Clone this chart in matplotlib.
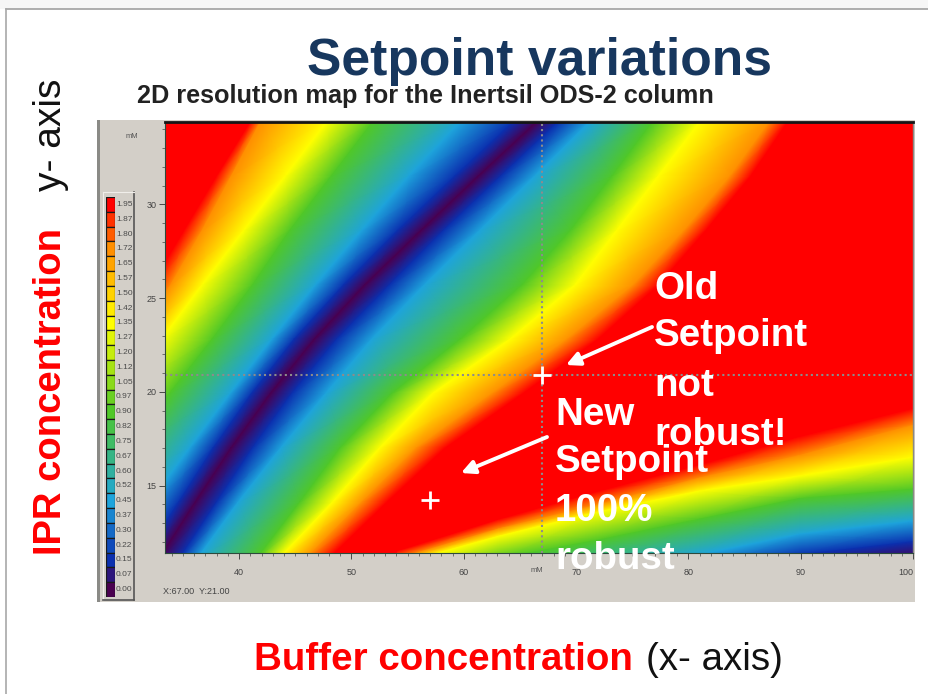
import matplotlib
matplotlib.use("Agg")
import matplotlib.pyplot as plt
import matplotlib.patheffects as pe
import numpy as np
from matplotlib.colors import LinearSegmentedColormap, Normalize
from matplotlib.patches import Rectangle

plt.rcParams['font.family'] = ['Liberation Sans', 'DejaVu Sans']

W, H = 929, 694

# colour stops of the map, resolution value -> colour
stop_values = [0.0, 0.15, 0.45, 0.9, 1.35, 1.72, 1.95]
stop_colors = ['#4a0050', '#0a30b0', '#1ea4dc', '#50c828', '#ffff00', '#ff9000', '#ff0000']

legend_levels = [1.95, 1.87, 1.80, 1.72, 1.65, 1.57, 1.50, 1.42, 1.35, 1.27, 1.20, 1.12, 1.05, 0.97,
                 0.90, 0.82, 0.75, 0.67, 0.60, 0.52, 0.45, 0.37, 0.30, 0.22, 0.15, 0.07, 0.00]

# IPR concentration rows (mM), top to bottom
ipr_rows = [34.4, 31.5, 28.6, 25.7, 22.8, 19.9, 17.0, 14.1, 11.2]

# buffer concentration (mM) where each colour stop sits on those rows
red_left = [41.0, 38.0, 35.1, 32.2, 29.2, 26.3, 23.4, 20.4, 17.5]
orange_left = [41.9, 39.3, 36.7, 33.9, 30.8, 27.9, 25.0, 22.0, 19.1]
yellow_left = [47.8, 44.1, 40.4, 36.7, 33.1, 29.4, 25.8, 22.1, 18.5]
green_left = [51.9, 48.2, 44.5, 41.2, 37.6, 33.8, 30.0, 26.5, 22.9]
sky_left = [59.7, 55.1, 50.9, 46.8, 42.9, 39.2, 35.6, 32.1, 28.7]
blue_left = [64.4, 59.2, 54.1, 49.3, 44.9, 41.1, 37.7, 34.6, 31.5]
ridge = [66.5, 61.3, 56.2, 51.2, 46.7, 42.8, 39.3, 36.1, 33.0]
blue_right = [68.4, 63.3, 58.2, 53.4, 48.7, 44.7, 41.2, 38.0, 34.8]
sky_right = [71.2, 66.3, 61.4, 56.5, 51.8, 47.7, 43.7, 39.9, 36.4]
green_right = [76.8, 73.2, 69.5, 65.2, 59.7, 53.6, 49.0, 45.4, 41.7]
yellow_right = [81.0, 77.3, 73.6, 69.9, 64.1, 57.2, 52.5, 48.3, 43.7]
orange_right = [87.2, 83.7, 79.6, 75.1, 69.2, 62.5, 55.8, 50.9, 46.1]
red_right = [88.8, 85.5, 81.5, 77.3, 71.9, 65.2, 58.3, 53.1, 48.1]

# lower right band: IPR (mM) of each colour stop on these buffer columns
band_columns = [54.1, 63.2, 72.1, 81.0, 89.9, 100.0]
band_red = [11.5, 13.2, 14.7, 16.1, 17.6, 19.1]
band_orange = [11.1, 12.7, 14.0, 15.4, 16.6, 18.2]
band_yellow = [10.8, 12.3, 13.6, 14.7, 15.5, 16.5]
band_green = [9.5, 11.1, 12.1, 13.2, 14.3, 14.8]
band_sky = [7.6, 9.2, 10.3, 11.3, 12.4, 13.1]
band_blue = [5.7, 8.1, 9.2, 10.3, 11.3, 12.0]
band_dark = [4.1, 7.3, 8.4, 9.5, 10.4, 11.1]

old_setpoint = (67, 20.9)
new_setpoint = (57, 14.25)


def px_axes(fig, left, top, right, bottom, **kw):
    return fig.add_axes([left / W, 1 - bottom / H, (right - left) / W, (bottom - top) / H], **kw)


norm = Normalize(0, 1.95)
cmap = LinearSegmentedColormap.from_list(
    'rs', [(v / 1.95, c) for v, c in zip(stop_values, stop_colors)], N=512)

fig = plt.figure(figsize=(W / 100, H / 100), dpi=100, facecolor='white')

# slide layer, pixel coordinates
back = px_axes(fig, 0, 0, W, H, zorder=0)
back.set_xlim(0, W)
back.set_ylim(H, 0)
back.axis('off')
back.add_patch(Rectangle((0, 0), W, 9, color='#f6f6f6', lw=0))
back.plot([6, W], [9, 9], color='#a0a0a0', lw=1.2)
back.plot([6, 6], [9, H], color='#a8a8a8', lw=1.2)
back.add_patch(Rectangle((97, 120), 818, 482, color='#d3cfc8', lw=0))
back.add_patch(Rectangle((97, 120), 3, 482, color='#8a8a86', lw=0))

# map
ax = px_axes(fig, 165, 122, 913, 553, zorder=2)
ax.set_facecolor('#ff0000')
ax.set_xlim(33.4, 100)
ax.set_ylim(11.4, 34.4)

stops = [red_left, orange_left, yellow_left, green_left, sky_left, blue_left, ridge,
         blue_right, sky_right, green_right, yellow_right, orange_right, red_right]
stop_levels = [1.95, 1.72, 1.35, 0.9, 0.45, 0.15, 0.0, 0.15, 0.45, 0.9, 1.35, 1.72, 1.95]
X = np.array(stops).T
Y = np.array([ipr_rows] * len(stops)).T
C = np.array([stop_levels] * len(ipr_rows))
ax.pcolormesh(X, Y, C, shading='gouraud', cmap=cmap, norm=norm)

band_stops = [band_red, band_orange, band_yellow, band_green, band_sky, band_blue, band_dark]
band_levels = [1.95, 1.72, 1.35, 0.9, 0.45, 0.15, 0.0]
BY = np.array(band_stops)
BX = np.array([band_columns] * len(band_stops))
BC = np.array([[v] * len(band_columns) for v in band_levels])
ax.pcolormesh(BX, BY, BC, shading='gouraud', cmap=cmap, norm=norm)

ax.axvline(old_setpoint[0], color='#8c8c8c', lw=1.5, ls=(0, (1, 1.5)))
ax.axhline(old_setpoint[1], color='#8c8c8c', lw=1.5, ls=(0, (1, 1.5)))
ax.plot(*old_setpoint, '+', color='white', ms=13, mew=2)
ax.plot(*new_setpoint, '+', color='white', ms=13, mew=2)

ax.set_xticks([40, 50, 60, 70, 80, 90, 100])
ax.set_yticks([15, 20, 25, 30])
ax.set_xticks(np.arange(34, 101), minor=True)
ax.set_yticks(np.arange(12, 35), minor=True)
ax.tick_params(which='major', length=4, width=0.6, color='#333333', labelsize=6.5, labelcolor='#444444', pad=7)
ax.tick_params(axis='y', which='major', pad=2)
ax.tick_params(which='minor', length=2, width=0.5, color='#444444')
ax.get_xticklabels()[-1].set_ha('right')
for side in ['left', 'bottom']:
    ax.spines[side].set_color('#2c4a3c')
    ax.spines[side].set_linewidth(0.8)
ax.spines['top'].set_color('#151515')
ax.spines['top'].set_linewidth(2)
ax.spines['right'].set_color('#8a8a86')
ax.spines['right'].set_linewidth(1)

# level legend
leg_box = px_axes(fig, 103, 192, 134, 600, zorder=1)
leg_box.set_xticks([])
leg_box.set_yticks([])
leg_box.set_facecolor('#d3cfc8')
for side in ['left', 'top']:
    leg_box.spines[side].set_color('#f0eeea')
for side in ['right', 'bottom']:
    leg_box.spines[side].set_color('#555555')
    leg_box.spines[side].set_linewidth(1.2)

leg = px_axes(fig, 106, 197, 115, 597, zorder=2)
pos = np.arange(len(legend_levels))
leg.barh(pos, 1, height=1, color=cmap(norm(legend_levels)), edgecolor='#1a1a1a', linewidth=0.9)
leg.set_xlim(0, 1)
leg.set_ylim(len(legend_levels) - 0.5, -0.5)
leg.axis('off')
for p, v in zip(pos, legend_levels):
    leg.text(1.1, p, '%.2f' % v, fontsize=6, color='#4a4a4a', va='center', ha='left', clip_on=False)

# text layer, pixel coordinates
top = px_axes(fig, 0, 0, W, H, zorder=5)
top.set_xlim(0, W)
top.set_ylim(H, 0)
top.axis('off')
top.patch.set_alpha(0)

top.text(540, 75, 'Setpoint variations', fontsize=37.2, fontweight='bold', color='#17375e', ha='center', va='baseline')
top.text(137, 103, '2D resolution map for the Inertsil ODS-2 column', fontsize=18.2, fontweight='bold',
         color='#222222', ha='left', va='baseline')

top.text(61, 555, 'IPR concentration', fontsize=27.5, fontweight='bold', color='#ff0000', rotation=90,
         ha='left', va='baseline', rotation_mode='anchor')
top.text(61, 191, 'y- axis', fontsize=28, color='#111111', rotation=90, ha='left', va='baseline',
         rotation_mode='anchor')
top.text(254, 670, 'Buffer concentration', fontsize=27.7, fontweight='bold', color='#ff0000', ha='left', va='baseline')
top.text(646, 670, '(x- axis)', fontsize=27.7, color='#111111', ha='left', va='baseline')

top.text(132, 136, 'mM', fontsize=5.5, color='#555555', ha='center', va='center')
top.text(537, 570, 'mM', fontsize=5.5, color='#555555', ha='center', va='center')
top.text(163, 591, 'X:67.00  Y:21.00', fontsize=6.5, color='#444444', ha='left', va='center')

for line, py in zip(['Old', 'Setpoint', 'not', 'robust!'], [299, 346, 396, 445]):
    top.text(654, py, line, fontsize=27.7, fontweight='bold', color='white', ha='left', va='baseline')
for line, py in zip(['New', 'Setpoint', '100%', 'robust'], [425, 472, 521, 569]):
    top.text(555, py, line, fontsize=27.7, fontweight='bold', color='white', ha='left', va='baseline')

arrow = dict(arrowstyle='-|>,head_length=0.8,head_width=0.4', color='white', lw=2.8, shrinkA=0, shrinkB=0,
             path_effects=[pe.SimplePatchShadow(offset=(1, -1.5), alpha=0.3), pe.Normal()])
top.annotate('', xy=(566, 365), xytext=(652, 327), arrowprops=arrow)
top.annotate('', xy=(461, 473), xytext=(547, 437), arrowprops=arrow)

fig.savefig('out.png', dpi=100)
